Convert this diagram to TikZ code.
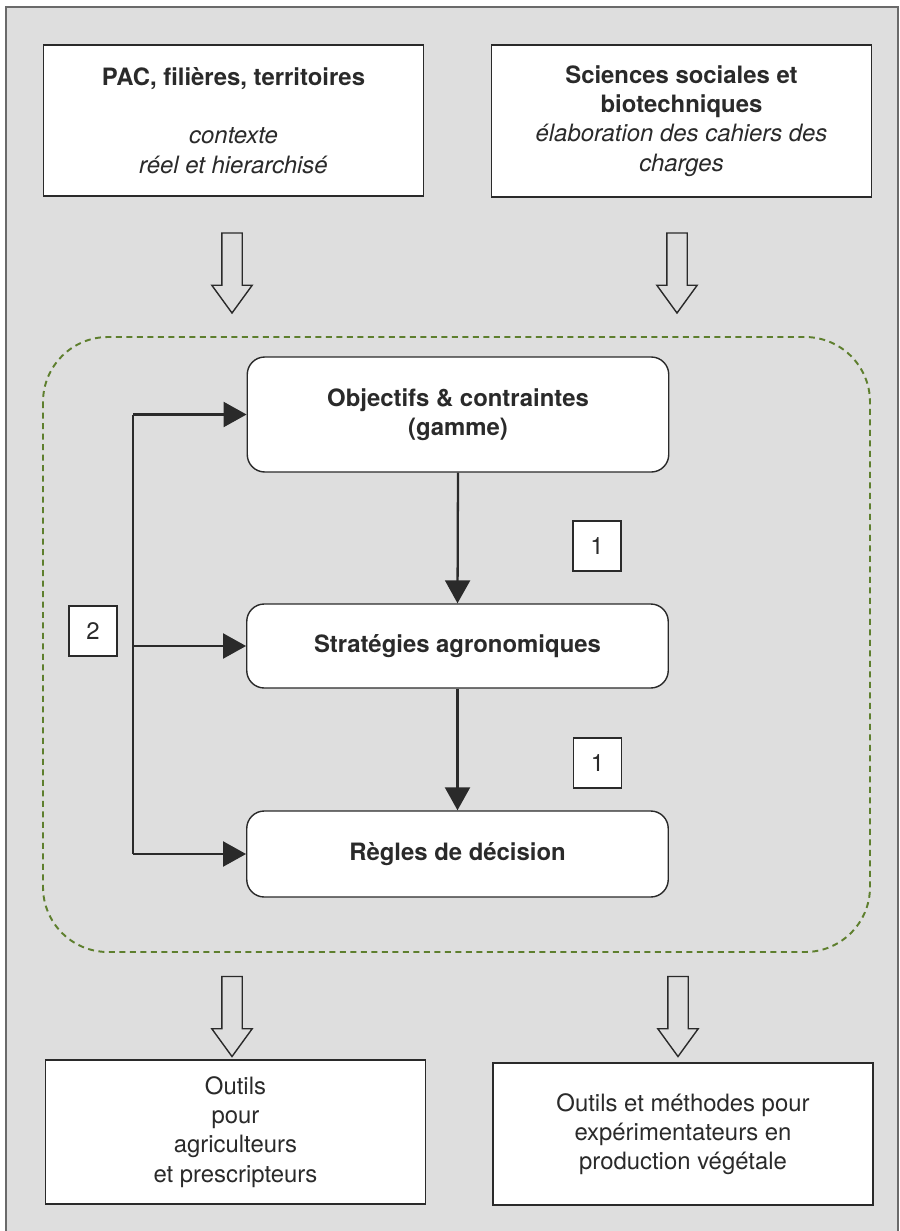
\documentclass[tikz,border=0pt]{standalone}
\usepackage{fontspec}
\setmainfont{TeX Gyre Heros}
\usepackage{xcolor}
\definecolor{fondgris}{HTML}{DEDEDE}
\definecolor{vertpointille}{HTML}{5E7F2E}
\definecolor{traitnoir}{HTML}{2A2A2A}
\usetikzlibrary{shapes,arrows.meta,positioning}

\begin{document}
\begin{tikzpicture}[
    texte/.style={font=\fontsize{13.6}{16.6}\selectfont, text=traitnoir, align=center},
    cadre/.style={texte, rectangle, draw=traitnoir, line width=0.8pt, fill=white, minimum width=7.6cm},
    etape/.style={texte, font=\fontsize{13.6}{16.6}\selectfont\bfseries, rectangle, rounded corners=0.35cm, draw=traitnoir, line width=0.8pt, fill=white, minimum width=8.43cm},
    numero/.style={texte, rectangle, draw=traitnoir, line width=0.6pt, fill=white, minimum width=0.96cm, minimum height=1cm, inner sep=0pt},
    fleche/.style={-{Triangle[length=0.46cm, width=0.5cm]}, line width=1.3pt, draw=traitnoir},
    creuse/.style={single arrow, draw=traitnoir, line width=0.8pt, shape border rotate=270, minimum height=1.6cm, minimum width=0.78cm, single arrow head extend=0.2cm, single arrow tip angle=72, inner sep=0.19cm},
]
\useasboundingbox (0,0) rectangle (17.98,-24.62);

% fond gris du schéma
\draw[draw=traitnoir!70, fill=fondgris, line width=0.6pt] (0.12,-0.14) rectangle (17.96,-24.9);

% cadres du haut
\node[cadre, minimum height=3.02cm] (pac) at (4.67,-2.41) {\textbf{PAC, filières, territoires}\\[16.6pt] \textit{contexte}\\ \textit{réel et hierarchisé}};
\node[cadre, minimum height=3.04cm] (sciences) at (13.63,-2.42) {\textbf{Sciences sociales et}\\ \textbf{biotechniques}\\ \textit{élaboration des cahiers des}\\ \textit{charges}};

% flèches creuses du haut
\node[creuse] (fl1) at (4.64,-5.32) {};
\node[creuse] (fl2) at (13.54,-5.32) {};

% zone en pointillés verts
\draw[draw=vertpointille, line width=1.1pt, dash pattern=on 0.12cm off 0.09cm, rounded corners=1.3cm] (0.86,-6.74) rectangle (17.4,-19.04);

% étapes
\node[etape, minimum height=2.3cm] (obj) at (9.16,-8.29) {Objectifs \& contraintes\\ (gamme)};
\node[etape, minimum height=1.68cm] (strat) at (9.15,-12.92) {Stratégies agronomiques};
\node[etape, minimum height=1.72cm] (regles) at (9.15,-17.08) {Règles de décision};

% enchaînement 1
\draw[fleche] (obj.south) -- (strat.north);
\draw[fleche] (strat.south) -- (regles.north);
\node[numero] (n1a) at (11.94,-10.92) {1};
\node[numero] (n1b) at (11.95,-15.26) {1};

% retour 2
\coordinate (busH) at (2.66,-8.29);
\coordinate (busB) at (2.66,-17.08);
\draw[draw=traitnoir, line width=1.3pt] (busH) -- (busB);
\draw[fleche] (busH) -- (obj.west);
\draw[fleche] (busH |- strat.west) -- (strat.west);
\draw[fleche] (busB) -- (regles.west);
\node[numero] (n2) at (1.86,-12.62) {2};

% flèches creuses du bas
\node[creuse] (fl3) at (4.64,-20.19) {};
\node[creuse] (fl4) at (13.56,-20.19) {};

% cadres du bas
\node[cadre, minimum height=2.88cm] (outils) at (4.71,-22.64) {Outils\\ pour\\ agriculteurs\\ et prescripteurs};
\node[cadre, minimum height=2.84cm] (methodes) at (13.66,-22.68) {Outils et méthodes pour\\ expérimentateurs en\\ production végétale};

\end{tikzpicture}
\end{document}
